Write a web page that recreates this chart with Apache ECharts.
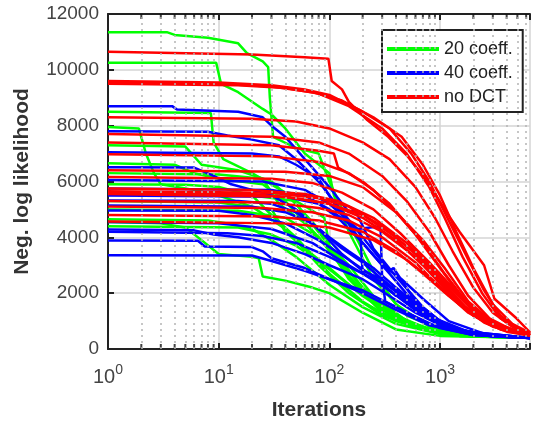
<!DOCTYPE html>
<html>
<head>
<meta charset="utf-8">
<script src="https://cdn.jsdelivr.net/npm/echarts@6/dist/echarts.min.js"></script>
<style>
html, body { margin: 0; padding: 0; background: #fff; }
#main { width: 533px; height: 426px; }
</style>
</head>
<body>
<div id="main"></div>
<script>
// legend names
var names = ['20 coeff.', '40 coeff.', 'no DCT'];
var colors = ['#00ff00', '#0000ff', '#ff0000'];

// y ticks
var yTicks = [0, 2000, 4000, 6000, 8000, 10000, 12000];

// minor (dotted) grid positions on the log axis
var minorTicks = [2, 3, 4, 5, 6, 7, 8, 9, 20, 30, 40, 50, 60, 70, 80, 90,
	200, 300, 400, 500, 600, 700, 800, 900, 2000, 3000, 4000, 5000, 6000];

// 20 coeff. runs: [iteration, neg. log likelihood]
var green = [
	[[1,11350],[3.4,11350],[4,11250],[8,11150],[15,10950],[18,10600],[25,10300],[28,10100],[29,9000],[31,7600],[50,7200],[80,7000],[100,6000],[150,4500],[250,2800],[400,1600],[800,800],[2000,480],[6500,410]],
	[[1,10250],[9.5,10250],[10.5,9500],[15,9200],[25,8600],[30,8400],[40,7900],[60,7000],[100,6300],[110,5500],[150,4200],[250,2500],[500,1200],[1000,700],[2000,470],[6500,410]],
	[[1,8500],[8.5,8450],[9,7400],[11,6800],[20,6300],[40,5600],[80,4300],[150,2600],[300,1400],[600,800],[1500,480],[6500,410]],
	[[1,7950],[1.9,7900],[2.2,7000],[2.6,6300],[3,5900],[6,5700],[10,5500],[20,5100],[40,4300],[80,3000],[150,2000],[300,1200],[700,700],[1500,470],[6500,410]],
	[[1,6650],[4,6600],[6,6300],[10,6100],[25,5900],[40,5300],[80,4000],[150,2600],[300,1400],[700,750],[1500,480],[6500,410]],
	[[1,5900],[5,5880],[10,5800],[20,5500],[30,4800],[50,4000],[100,2700],[200,1700],[400,1000],[800,650],[2000,460],[6500,405]],
	[[1,4650],[8,4600],[12,4500],[20,4300],[30,3900],[50,3300],[100,2300],[200,1500],[400,900],[1000,540],[6500,405]],
	[[1,4550],[3,4500],[5,4350],[7,3900],[10,3400],[20,3300],[23,3250],[25,2600],[40,2450],[70,2200],[100,2000],[200,1300],[400,700],[1000,470],[6500,405]],
	[[1,5300],[10,5250],[30,5000],[40,4200],[60,3600],[100,2900],[200,1900],[400,1100],[800,650],[2000,450],[6500,405]],
	[[1,6300],[10,6250],[25,6100],[35,5200],[60,4500],[100,3600],[150,2500],[300,1300],[700,700],[1500,470],[6500,405]],
	[[1,5000],[15,4950],[40,4700],[80,4000],[120,3200],[200,2200],[350,1300],[700,750],[1500,480],[6500,405]],
	[[1,7300],[5,7250],[7,6600],[15,6400],[30,6000],[50,5200],[100,3700],[200,2200],[400,1200],[800,700],[2000,460],[6500,405]],
	[[1,5550],[20,5500],[50,5300],[90,4700],[100,3700],[150,3000],[250,1900],[500,1000],[1000,600],[2000,450],[6500,405]],
	[[1,4400],[15,4350],[30,4100],[50,3700],[90,3000],[150,2300],[300,1500],[600,850],[1200,530],[6500,400]]
];

// 40 coeff. runs
var blue = [
	[[1,8700],[3.8,8700],[4.2,8580],[15,8500],[25,8300],[30,8000],[40,7600],[60,6800],[100,5800],[150,4900],[170,5000],[250,3600],[400,2600],[700,1500],[1000,1000],[1500,700],[3000,470],[6500,400]],
	[[1,7800],[8,7780],[12,7650],[20,7500],[35,7300],[50,6800],[80,6000],[120,5100],[200,4000],[350,2800],[380,2900],[600,1700],[1000,1000],[1500,700],[3000,470],[6500,400]],
	[[1,7050],[20,7000],[35,6900],[50,6600],[80,6100],[120,5000],[200,3800],[350,2700],[600,1600],[1000,950],[1500,650],[3000,460],[6500,400]],
	[[1,6510],[6,6500],[9,6200],[13,5900],[20,5700],[30,5500],[50,5000],[80,4300],[130,3400],[200,2800],[300,2500],[320,1700],[500,1300],[1000,750],[2000,500],[6500,395]],
	[[1,5320],[15,5300],[30,5200],[50,4900],[80,4300],[130,3600],[200,3100],[300,2500],[500,1800],[550,1900],[800,1200],[1500,650],[6500,395]],
	[[1,5140],[20,5100],[40,4900],[70,4500],[100,4000],[150,3500],[250,2900],[400,2200],[700,1400],[1000,950],[1500,650],[6500,395]],
	[[1,4960],[10,4950],[20,4800],[40,4500],[80,3900],[150,3200],[250,2600],[400,1900],[450,2000],[700,1200],[1500,620],[6500,395]],
	[[1,4280],[6,4250],[9,4100],[15,4000],[30,3800],[60,3400],[100,3000],[200,2500],[350,1900],[600,1300],[1200,700],[3000,450],[6500,395]],
	[[1,4200],[12,4150],[25,4050],[50,3800],[100,3300],[200,2700],[350,2100],[600,1400],[1200,750],[3000,460],[6500,395]],
	[[1,3890],[6.5,3880],[7.5,3670],[20,3650],[25,3500],[30,3250],[60,2900],[100,2500],[200,2000],[400,1400],[800,850],[2000,500],[6500,395]],
	[[1,3360],[20,3350],[30,3150],[60,2800],[100,2500],[200,2100],[400,1500],[800,900],[2000,500],[6500,395]],
	[[1,5750],[30,5700],[60,5500],[100,5000],[150,4500],[190,4200],[200,2700],[300,2400],[500,1800],[900,1100],[2000,550],[6500,395]],
	[[1,6050],[25,6000],[60,5700],[100,5200],[180,4300],[290,4400],[300,2500],[500,1700],[1000,900],[2500,480],[6500,395]],
	[[1,4550],[10,4500],[30,4300],[70,3800],[150,3000],[300,2300],[600,1400],[1200,750],[3000,460],[6500,395]],
	[[1,5500],[40,5450],[80,5200],[120,4700],[200,3800],[300,3000],[450,2500],[700,1800],[1200,1000],[2500,550],[6500,400]]
];

// no DCT runs
var red = [
	[[1,10650],[20,10550],[60,10450],[98,10400],[105,9600],[130,9300],[150,8850],[220,8200],[340,7600],[510,6900],[770,6000],[1100,5000],[1500,4200],[2500,3000],[3100,1800],[4900,1100],[6500,600]],
	[[1,9600],[10,9550],[30,9450],[60,9300],[100,9100],[200,8500],[350,7900],[550,7000],[800,6000],[1200,4600],[1800,3200],[2500,2100],[3500,1200],[5000,750],[6500,550]],
	[[1,9550],[10,9500],[30,9400],[70,9200],[130,8900],[250,8300],[450,7600],[700,6600],[1000,5500],[1400,4200],[2000,2900],[3000,1600],[4500,900],[6500,580]],
	[[1,9500],[15,9450],[40,9350],[80,9150],[150,8700],[300,7900],[500,7000],[800,5800],[1100,4700],[1600,3300],[2400,2000],[3500,1100],[5000,700],[6500,560]],
	[[1,8300],[20,8250],[50,8150],[100,7900],[200,7400],[350,6800],[600,5800],[900,4700],[1300,3500],[2000,2200],[3000,1300],[4500,800],[6500,550]],
	[[1,7700],[30,7600],[80,7400],[150,7000],[300,6200],[500,5300],[800,4200],[1200,3000],[1800,1900],[2800,1100],[4500,680],[6500,520]],
	[[1,7400],[30,7300],[80,7100],[110,7000],[120,6500],[200,6000],[350,5200],[600,4100],[1000,2900],[1600,1800],[2500,1100],[4000,700],[6500,520]],
	[[1,6980],[30,6900],[80,6700],[150,6300],[250,5700],[400,4900],[700,3800],[1100,2700],[1800,1600],[3000,900],[5000,600],[6500,500]],
	[[1,6160],[30,6100],[70,5950],[130,5600],[250,5000],[450,4100],[800,3100],[1300,2200],[2200,1300],[3500,800],[6500,500]],
	[[1,5750],[20,5700],[60,5550],[120,5300],[250,4700],[500,3800],[900,2800],[1500,1900],[2500,1150],[4000,700],[6500,500]],
	[[1,5650],[30,5600],[80,5400],[150,5100],[300,4400],[600,3400],[1000,2500],[1700,1500],[3000,850],[6500,490]],
	[[1,5600],[20,5550],[50,5400],[100,5200],[200,4700],[400,3900],[700,3000],[1200,2000],[2000,1200],[3500,750],[6500,490]],
	[[1,5550],[40,5450],[100,5200],[200,4800],[400,4000],[800,3000],[1300,2100],[2200,1200],[3800,700],[6500,490]],
	[[1,5300],[30,5250],[80,5050],[150,4800],[300,4200],[600,3300],[1000,2400],[1700,1500],[3000,850],[6500,480]],
	[[1,4800],[30,4750],[80,4600],[200,4200],[400,3500],[700,2700],[1200,1900],[2000,1200],[3500,700],[6500,480]],
	[[1,4570],[40,4500],[100,4350],[250,3900],[500,3200],[900,2400],[1500,1600],[2500,950],[4000,620],[6500,480]],
	[[1,5100],[25,5050],[70,4900],[150,4600],[300,4000],[600,3100],[1000,2200],[1800,1300],[3000,800],[6500,480]],
	[[1,6400],[40,6350],[100,6200],[200,5800],[400,4900],[700,3900],[1100,2900],[1800,1700],[3000,950],[6500,500]]
];

var FONT = 'Liberation Sans, Arial, sans-serif';

function makeSeries(name, color, curves) {
	return curves.map(function (c) {
		return {
			name: name,
			type: 'line',
			data: c,
			symbol: 'none',
			showSymbol: false,
			silent: true,
			lineStyle: { color: color, width: 2.5 },
			itemStyle: { color: color }
		};
	});
}

function powLabel(v) {
	var e = Math.log10(v);
	if (Math.abs(e - Math.round(e)) > 1e-6) return '';
	return '{b|10}{s|' + Math.round(e) + '}';
}

var series = [];
series = series.concat(makeSeries(names[0], colors[0], green));
series = series.concat(makeSeries(names[1], colors[1], blue));
series = series.concat(makeSeries(names[2], colors[2], red));

// dotted minor grid + small minor ticks along bottom and top
series.push({
	type: 'scatter',
	silent: true,
	clip: false,
	symbol: 'rect',
	symbolSize: [2, 5],
	symbolOffset: [0, -2.5],
	itemStyle: { color: '#111' },
	data: minorTicks.map(function (v) { return [v, 0]; }),
	z: 1,
	markLine: {
		silent: true,
		symbol: ['none', 'none'],
		animation: false,
		label: { show: false },
		lineStyle: { color: '#b4b4b4', width: 1.5, type: [2, 4] },
		data: minorTicks.map(function (v) { return { xAxis: v }; })
	}
});
series.push({
	type: 'scatter',
	silent: true,
	clip: false,
	symbol: 'rect',
	symbolSize: [2, 5],
	symbolOffset: [0, 2.5],
	itemStyle: { color: '#111' },
	data: minorTicks.map(function (v) { return [v, yTicks[yTicks.length - 1]]; }),
	z: 1
});

var myChart = echarts.init(document.getElementById('main'));
option = {
	animation: false,
	backgroundColor: '#fff',
	grid: { left: 108, right: 0, top: 14, bottom: 75 },
	legend: {
		data: names,
		orient: 'vertical',
		left: 382,
		top: 30,
		padding: [10, 10, 6, 5],
		itemGap: 6,
		itemWidth: 52,
		itemHeight: 4,
		icon: 'rect',
		borderColor: '#222',
		borderWidth: 2,
		backgroundColor: '#fff',
		selectedMode: false,
		textStyle: { color: '#222', fontSize: 18, fontFamily: FONT }
	},
	xAxis: [{
		type: 'log',
		logBase: 10,
		min: 1,
		max: 6500,
		name: 'Iterations',
		nameLocation: 'middle',
		nameGap: 51,
		nameTextStyle: { color: '#333', fontSize: 21, fontWeight: 'bold', fontFamily: FONT },
		axisLine: { lineStyle: { color: '#222', width: 2 } },
		axisTick: { inside: true, length: 6, lineStyle: { color: '#222', width: 2 } },
		splitLine: { show: true, lineStyle: { color: '#d4d4d4', width: 1.5 } },
		axisLabel: {
			margin: 14,
			color: '#444',
			formatter: powLabel,
			rich: {
				b: { fontSize: 20, fontFamily: FONT, color: '#444', verticalAlign: 'bottom', lineHeight: 24 },
				s: { fontSize: 14, fontFamily: FONT, color: '#444', verticalAlign: 'top', lineHeight: 24 }
			}
		}
	}, {
		type: 'log',
		logBase: 10,
		min: 1,
		max: 6500,
		position: 'top',
		axisLine: { lineStyle: { color: '#222', width: 2 } },
		axisTick: { inside: true, length: 6, lineStyle: { color: '#222', width: 2 } },
		axisLabel: { show: false },
		splitLine: { show: false }
	}],
	yAxis: {
		type: 'value',
		min: yTicks[0],
		max: yTicks[yTicks.length - 1],
		interval: 2000,
		name: 'Neg. log likelihood',
		nameLocation: 'middle',
		nameGap: 75,
		nameTextStyle: { color: '#333', fontSize: 21, fontWeight: 'bold', fontFamily: FONT },
		axisLine: { show: true, lineStyle: { color: '#222', width: 2 } },
		axisTick: { show: true, inside: true, length: 6, lineStyle: { color: '#222', width: 2 } },
		splitLine: { show: true, lineStyle: { color: '#d4d4d4', width: 1.5 } },
		axisLabel: {
			margin: 9,
			color: '#444',
			fontSize: 19,
			fontFamily: FONT,
			formatter: function (v) { return String(v); }
		}
	},
	series: series
};
myChart.setOption(option);
</script>
</body>
</html>
